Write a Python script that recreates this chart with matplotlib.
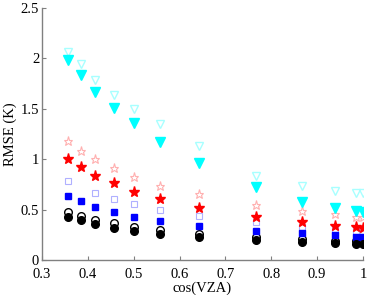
import matplotlib
matplotlib.use("Agg")
import matplotlib.pyplot as plt
import numpy as np

cos_vza = [0.357, 0.384, 0.416, 0.456, 0.501, 0.558, 0.642, 0.766, 0.866, 0.940, 0.985, 1.000]

tri_filled = [1.984, 1.838, 1.670, 1.508, 1.356, 1.174, 0.960, 0.728, 0.572, 0.516, 0.490, 0.480]
tri_open = [2.067, 1.944, 1.786, 1.637, 1.495, 1.349, 1.134, 0.836, 0.737, 0.684, 0.661, 0.661]
star_filled = [1.003, 0.920, 0.838, 0.762, 0.679, 0.603, 0.513, 0.426, 0.373, 0.339, 0.324, 0.322]
star_open = [1.176, 1.086, 1.000, 0.910, 0.828, 0.738, 0.652, 0.549, 0.488, 0.452, 0.430, 0.430]
sq_filled = [0.639, 0.583, 0.523, 0.480, 0.430, 0.387, 0.338, 0.291, 0.265, 0.245, 0.231, 0.231]
sq_open = [0.788, np.nan, 0.668, 0.602, 0.559, 0.497, 0.437, 0.380, 0.324, 0.300, 0.288, 0.288]
circ_filled = [0.424, 0.394, 0.357, 0.320, 0.291, 0.261, 0.225, 0.198, 0.178, 0.165, 0.162, 0.162]
circ_open = [0.476, 0.433, 0.397, 0.364, 0.324, 0.298, 0.258, 0.225, 0.205, 0.188, 0.185, 0.185]

plt.rcParams['font.family'] = ['Liberation Serif', 'DejaVu Serif']
fig = plt.figure(figsize=(3.73, 2.95), dpi=100)
ax = fig.add_axes([0.1126, 0.1186, 0.8606, 0.8544])

kw = dict(linestyle='none')
ax.plot(cos_vza, tri_open, marker='v', ms=6, mfc='none', mec='#a8ffff', mew=1.0, **kw)
ax.plot(cos_vza, star_open, marker='*', ms=6.5, mfc='none', mec='#ffb0b0', mew=0.8, **kw)
ax.plot(cos_vza, sq_open, marker='s', ms=4, mfc='none', mec='#b0b0ff', mew=0.8, **kw)
ax.plot(cos_vza, circ_open, marker='o', ms=5.5, mfc='white', mec='black', mew=1.0, **kw)
ax.plot(cos_vza, tri_filled, marker='v', ms=6.5, color='#00ffff', mec='#00ffff', **kw)
ax.plot(cos_vza, star_filled, marker='*', ms=8, color='#ff0000', mec='#ff0000', **kw)
ax.plot(cos_vza, sq_filled, marker='s', ms=4.5, color='#0000ff', mec='#0000ff', **kw)
ax.plot(cos_vza, circ_filled, marker='o', ms=5.5, color='black', **kw)

ax.set_xlim(0.3, 1.0)
ax.set_ylim(0, 2.5)
ax.set_xticks([0.3, 0.4, 0.5, 0.6, 0.7, 0.8, 0.9, 1.0])
ax.set_xticklabels(['0.3', '0.4', '0.5', '0.6', '0.7', '0.8', '0.9', '1'])
ax.set_yticks([0, 0.5, 1, 1.5, 2, 2.5])
ax.set_yticklabels(['0', '0.5', '1', '1.5', '2', '2.5'])
for s in ['top', 'right']:
    ax.spines[s].set_visible(False)
for s in ['left', 'bottom']:
    ax.spines[s].set_color('#808080')
    ax.spines[s].set_linewidth(1.0)
ax.tick_params(direction='in', length=3, color='#808080', labelsize=10.5)
ax.tick_params(axis='x', pad=6)
ax.tick_params(axis='y', pad=2)
ax.set_xlabel('cos(VZA)', fontsize=10.5, labelpad=0)
ax.set_ylabel('RMSE (K)', fontsize=10.5, labelpad=3)
fig.savefig('out.png', dpi=100)
